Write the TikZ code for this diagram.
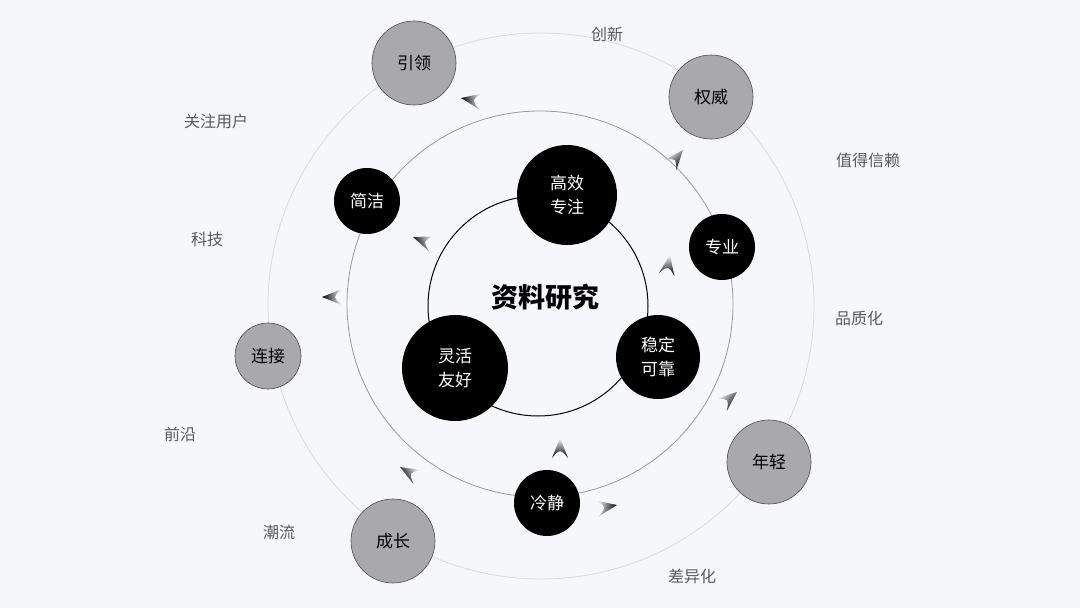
\documentclass[tikz,border=0pt]{standalone}
\usepackage{fontspec}
\setmainfont{Noto Sans CJK SC}
\definecolor{bg}{HTML}{F6F7FB}
\definecolor{knob}{HTML}{A9A8AD}
\definecolor{labelgray}{HTML}{5A5A5A}
\tikzset{
    core/.style = {circle, fill=black, text=white, align=center, inner sep=0pt, font=\fontsize{17}{24}\selectfont},
    halo/.style = {circle, fill=knob, draw=black!70, line width=0.6pt, text=black, inner sep=0pt, font=\fontsize{17}{20}\selectfont},
    tag/.style  = {text=labelgray, font=\fontsize{16}{20}\selectfont},
}
% shaded arrow head at (x,y), pointing at angle
\newcommand{\swoosh}[3]{%
    \begin{scope}[shift={(#1,#2)}, yscale=-1, rotate=#3]
        \shade[left color=bg, right color=black, shading angle=#3+90]
            (0,0) -- (-20,8) .. controls (-14,3) .. (-13,0) .. controls (-14,-3) .. (-20,-8) -- cycle;
    \end{scope}}

\begin{document}
\begin{tikzpicture}[x=1pt, y=-1pt]
    \useasboundingbox[fill=bg] (0,0) rectangle (1080,608);

    % rings
    \draw[black!15, line width=0.8pt] (541,306) circle (273);
    \draw[black!40, line width=0.8pt] (540,304) circle (193);
    \draw[black, line width=1pt] (538,306) circle (110);

    \node[font=\bfseries\fontsize{27}{30}\selectfont] (topic) at (545,297) {资料研究};

    % inner nodes
    \node[core, minimum size=100] (focus) at (567,195) {高效\\专注};
    \node[core, minimum size=66] (pro) at (722,247) {专业};
    \node[core, minimum size=84] (stable) at (658,357) {稳定\\可靠};
    \node[core, minimum size=66] (calm) at (547,503) {冷静};
    \node[core, minimum size=106] (flex) at (455,368) {灵活\\友好};
    \node[core, minimum size=66] (simple) at (367,201) {简洁};

    % outer nodes
    \node[halo, minimum size=84] (lead) at (414,63) {引领};
    \node[halo, minimum size=84] (auth) at (711,97) {权威};
    \node[halo, minimum size=84] (young) at (769,462) {年轻};
    \node[halo, minimum size=84] (grow) at (393,541) {成长};
    \node[halo, minimum size=66] (link) at (268,356) {连接};

    % labels
    \node[tag] (t1) at (607,34) {创新};
    \node[tag] (t2) at (868,160) {值得信赖};
    \node[tag] (t3) at (859,318) {品质化};
    \node[tag] (t4) at (692,576) {差异化};
    \node[tag] (t5) at (279,532) {潮流};
    \node[tag] (t6) at (180,434) {前沿};
    \node[tag] (t7) at (207,239) {科技};
    \node[tag] (t8) at (216,121) {关注用户};

    % arrow heads
    \swoosh{461}{98}{190}
    \swoosh{683}{150}{-50}
    \swoosh{670}{255}{-80}
    \swoosh{322}{297}{180}
    \swoosh{737}{392}{-40}
    \swoosh{560}{438}{-90}
    \swoosh{400}{467}{210}
    \swoosh{617}{505}{-10}
    \swoosh{413}{237}{200}
\end{tikzpicture}
\end{document}
